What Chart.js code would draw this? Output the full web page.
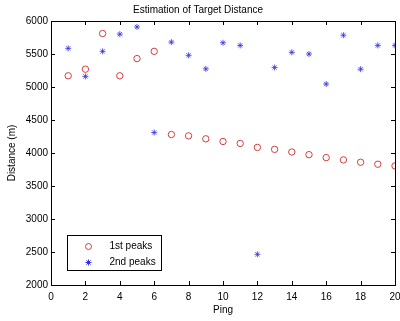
<!DOCTYPE html>
<html>
<head>
<meta charset="utf-8">
<script src="https://cdn.jsdelivr.net/npm/chart.js@4.4.0/dist/chart.umd.min.js"></script>
<style>
  html, body { margin: 0; padding: 0; background: #fff; }
  #wrap { width: 400px; height: 321px; }
</style>
</head>
<body>
<div id="wrap"><canvas id="chart" width="400" height="321"></canvas></div>
<script>
// dados
const pings = [1, 2, 3, 4, 5, 6, 7, 8, 9, 10, 11, 12, 13, 14, 15, 16, 17, 18, 19, 20];
const firstPeaks = [5170, 5270, 5810, 5170, 5430, 5540, 4280, 4260, 4215, 4175, 4145, 4085, 4055, 4015, 3975, 3930, 3895, 3860, 3830, 3805];
const secondPeaks = [5585, 5160, 5540, 5800, 5910, 4310, 5680, 5480, 5275, 5670, 5630, 2465, 5295, 5525, 5500, 5045, 5785, 5270, 5630, 5630];
const xTicks = [0, 2, 4, 6, 8, 10, 12, 14, 16, 18, 20];
const yTicks = [2000, 2500, 3000, 3500, 4000, 4500, 5000, 5500, 6000];

const FONT = '"Liberation Sans", Arial, sans-serif';
const RED = 'rgb(215, 60, 60)';
const BLUE = 'rgb(50, 50, 225)';

function toPoints(vals) {
    return pings.map((p, i) => ({ x: p, y: vals[i] }));
}

// desenha o simbolo do marcador (usado na legenda)
function drawMarker(ctx, style, color, x, y, r) {
    ctx.save();
    ctx.strokeStyle = color;
    ctx.lineWidth = 1;
    ctx.beginPath();
    if (style === 'circle') {
        ctx.arc(x, y, r, 0, Math.PI * 2);
    } else {
        const d = r * 0.7;
        ctx.moveTo(x - r, y); ctx.lineTo(x + r, y);
        ctx.moveTo(x, y - r); ctx.lineTo(x, y + r);
        ctx.moveTo(x - d, y - d); ctx.lineTo(x + d, y + d);
        ctx.moveTo(x - d, y + d); ctx.lineTo(x + d, y - d);
    }
    ctx.stroke();
    ctx.restore();
}

// caixa dos eixos com ticks para dentro + legenda dentro do grafico
const boxPlugin = {
    id: 'boxPlugin',
    afterDraw(chart) {
        const ctx = chart.ctx;
        const a = chart.chartArea;
        const xs = chart.scales.x, ys = chart.scales.y;
        const tl = 4;
        ctx.save();
        ctx.strokeStyle = '#000';
        ctx.lineWidth = 1;
        ctx.strokeRect(Math.round(a.left) + 0.5, Math.round(a.top) + 0.5,
            Math.round(a.right - a.left), Math.round(a.bottom - a.top));
        ctx.beginPath();
        xTicks.forEach(v => {
            const px = Math.round(xs.getPixelForValue(v)) + 0.5;
            ctx.moveTo(px, a.bottom); ctx.lineTo(px, a.bottom - tl);
            ctx.moveTo(px, a.top); ctx.lineTo(px, a.top + tl);
        });
        yTicks.forEach(v => {
            const py = Math.round(ys.getPixelForValue(v)) + 0.5;
            ctx.moveTo(a.left, py); ctx.lineTo(a.left + tl, py);
            ctx.moveTo(a.right, py); ctx.lineTo(a.right - tl, py);
        });
        ctx.stroke();

        // legenda
        const lx = Math.round(a.left) + 16.5, ly = Math.round(a.bottom) - 49.5;
        const lw = 94, lh = 35;
        ctx.fillStyle = '#fff';
        ctx.fillRect(lx, ly, lw, lh);
        ctx.strokeStyle = '#000';
        ctx.strokeRect(lx, ly, lw, lh);
        ctx.font = '10px ' + FONT;
        ctx.textBaseline = 'middle';
        ctx.fillStyle = '#000';
        chart.data.datasets.forEach((ds, i) => {
            const cy = ly + 11 + i * 16;
            drawMarker(ctx, ds.pointStyle, ds.borderColor, lx + 21, cy, 3);
            ctx.fillText(ds.label, lx + 42, cy);
        });
        ctx.restore();
    }
};

new Chart(document.getElementById('chart').getContext('2d'), {
    type: 'scatter',
    data: {
        datasets: [
            {
                label: '1st peaks',
                data: toPoints(firstPeaks),
                pointStyle: 'circle',
                borderColor: RED,
                backgroundColor: 'transparent',
                pointRadius: 3.2,
                borderWidth: 1
            },
            {
                label: '2nd peaks',
                data: toPoints(secondPeaks),
                pointStyle: 'star',
                borderColor: BLUE,
                backgroundColor: BLUE,
                pointRadius: 3,
                borderWidth: 0.8
            }
        ]
    },
    options: {
        responsive: false,
        animation: false,
        layout: { padding: { left: 0, right: 4, top: 0, bottom: 0 } },
        plugins: {
            legend: { display: false },
            tooltip: { enabled: false },
            title: {
                display: true,
                text: 'Estimation of Target Distance',
                color: '#000',
                font: { family: FONT, size: 10, weight: 'normal' },
                padding: { top: 4, bottom: 5 }
            }
        },
        scales: {
            x: {
                type: 'linear',
                min: 0,
                max: 20,
                grid: { display: false, drawTicks: false },
                border: { display: false },
                afterBuildTicks: s => { s.ticks = xTicks.map(v => ({ value: v })); },
                afterFit: s => { s.height = 36; s.paddingLeft = 0; s.paddingRight = 0; },
                ticks: { color: '#000', padding: 6, maxRotation: 0, callback: v => String(v), font: { family: FONT, size: 10 } },
                title: {
                    display: true,
                    text: 'Ping',
                    color: '#000',
                    font: { family: FONT, size: 10 },
                    padding: { top: 0, bottom: 5 }
                }
            },
            y: {
                type: 'linear',
                min: 2000,
                max: 6000,
                grid: { display: false, drawTicks: false },
                border: { display: false },
                afterBuildTicks: s => { s.ticks = yTicks.map(v => ({ value: v })); },
                afterFit: s => { s.width = 51; s.paddingTop = 0; s.paddingBottom = 0; },
                ticks: { color: '#000', padding: 3, callback: v => String(v), font: { family: FONT, size: 10 } },
                title: {
                    display: true,
                    text: 'Distance (m)',
                    color: '#000',
                    font: { family: FONT, size: 10 },
                    padding: { top: 6, bottom: 0 }
                }
            }
        }
    },
    plugins: [boxPlugin]
});
</script>
</body>
</html>
